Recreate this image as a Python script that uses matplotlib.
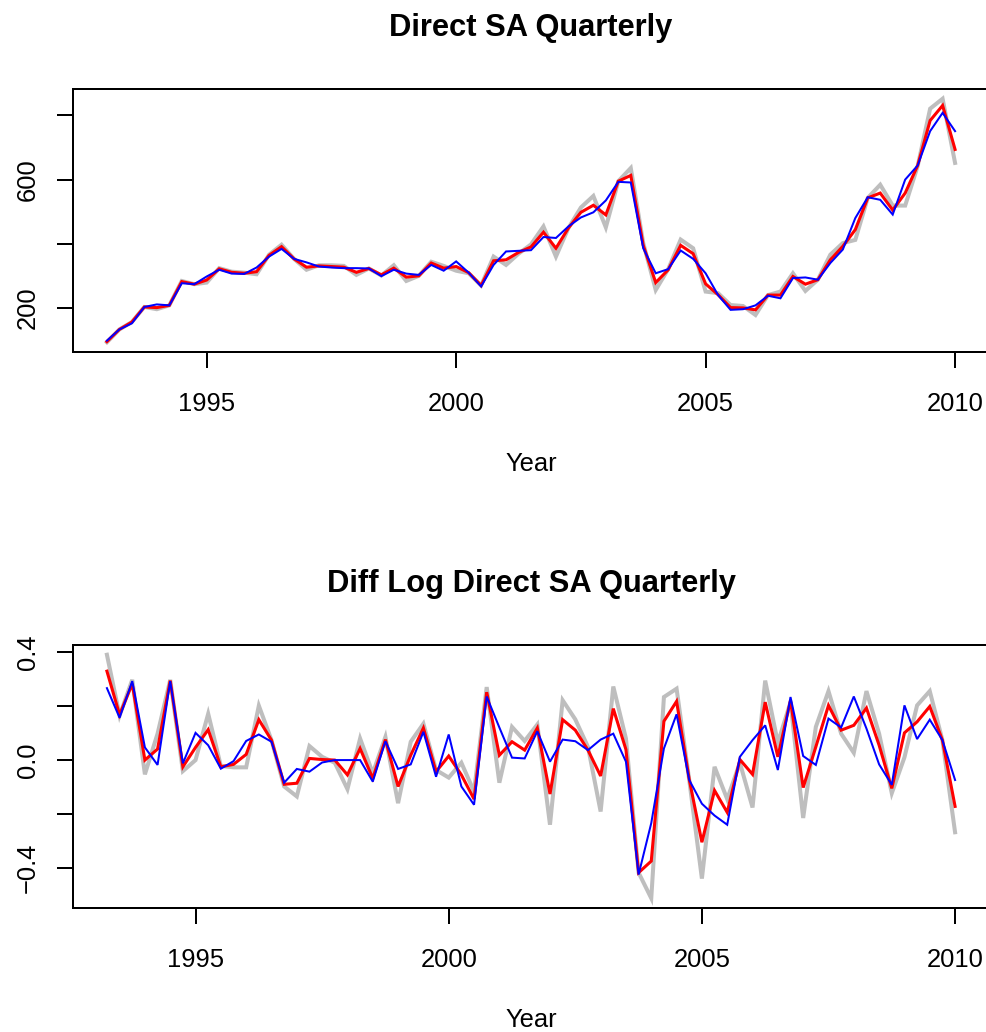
import numpy as np
import matplotlib
matplotlib.use("Agg")
import matplotlib.pyplot as plt

plt.rcParams["font.family"] = ["Liberation Sans", "DejaVu Sans"]

# quarterly level series, 1993Q1 .. 2010Q1
start_q = 1993.0
level_raw = [93, 133, 156, 203, 196, 208, 284, 274, 279, 324, 313, 310, 305, 366,
             397, 353, 319, 333, 333, 331, 303, 323, 301, 333, 284, 300, 344, 331,
             316, 308, 270, 360, 334, 369, 398, 454, 360, 449, 513, 549, 451, 595,
             636, 402, 256, 321, 413, 386, 251, 246, 209, 206, 178, 240, 251, 308,
             253, 288, 366, 402, 412, 543, 584, 519, 519, 642, 821, 852, 652]
level_sa = [95, 133, 156, 203, 201, 208, 282, 274, 287, 322, 311, 308, 313, 364,
            391, 353, 327, 331, 329, 327, 311, 323, 303, 324, 296, 300, 340, 324,
            329, 310, 270, 347, 350, 373, 390, 436, 386, 449, 498, 520, 490, 595,
            613, 395, 279, 319, 395, 369, 275, 241, 201, 200, 194, 240, 240, 298,
            274, 288, 350, 392, 444, 543, 558, 505, 558, 644, 784, 831, 694]
level_direct = [98, 133, 152, 203, 211, 208, 277, 274, 298, 319, 307, 306, 326, 360,
                384, 353, 342, 329, 326, 324, 324, 323, 299, 319, 307, 303, 334, 316,
                345, 310, 267, 334, 376, 378, 380, 421, 418, 454, 482, 498, 535, 593,
                591, 386, 308, 321, 379, 353, 308, 240, 194, 196, 208, 238, 230, 293,
                295, 288, 340, 382, 480, 545, 537, 491, 600, 644, 751, 808, 751]

# quarterly log differences, 1993Q2 .. 2010Q1
diff_start_q = 1993.25
dlog_raw = [0.391, 0.165, 0.298, -0.053, 0.098, 0.298, -0.041, 0.000, 0.172, -0.022,
            -0.027, -0.027, 0.202, 0.074, -0.098, -0.135, 0.052, 0.012, -0.010, -0.108,
            0.080, -0.049, 0.086, -0.160, 0.068, 0.135, -0.037, -0.065, -0.010, -0.117,
            0.271, -0.084, 0.123, 0.071, 0.132, -0.240, 0.222, 0.151, 0.049, -0.191,
            0.273, 0.080, -0.418, -0.513, 0.234, 0.265, -0.074, -0.440, -0.025, -0.145,
            -0.010, -0.176, 0.295, 0.064, 0.215, -0.215, 0.123, 0.256, 0.098, 0.027,
            0.256, 0.098, -0.123, 0.010, 0.203, 0.256, 0.074, -0.268]
dlog_sa = [0.330, 0.168, 0.283, 0.000, 0.041, 0.295, -0.025, 0.047, 0.113, -0.025,
           -0.016, 0.021, 0.150, 0.074, -0.090, -0.086, 0.006, 0.002, 0.000, -0.055,
           0.043, -0.068, 0.076, -0.098, 0.018, 0.119, -0.043, 0.015, -0.055, -0.145,
           0.252, 0.018, 0.068, 0.037, 0.119, -0.126, 0.150, 0.111, 0.037, -0.059,
           0.191, 0.039, -0.418, -0.375, 0.144, 0.218, -0.072, -0.305, -0.113, -0.194,
           0.002, -0.053, 0.215, 0.012, 0.222, -0.102, 0.049, 0.203, 0.111, 0.129,
           0.193, 0.055, -0.105, 0.101, 0.142, 0.199, 0.074, -0.172]
dlog_direct = [0.267, 0.157, 0.293, 0.047, -0.018, 0.293, -0.012, 0.101, 0.055, -0.032,
               -0.004, 0.071, 0.095, 0.068, -0.084, -0.033, -0.043, -0.009, 0.000, 0.000,
               0.000, -0.080, 0.070, -0.033, -0.016, 0.105, -0.062, 0.095, -0.098, -0.166,
               0.236, 0.121, 0.009, 0.006, 0.107, -0.006, 0.076, 0.070, 0.037, 0.076,
               0.098, -0.006, -0.425, -0.234, 0.043, 0.170, -0.074, -0.162, -0.206, -0.240,
               0.012, 0.074, 0.129, -0.037, 0.234, 0.015, -0.018, 0.154, 0.121, 0.236,
               0.117, -0.016, -0.092, 0.203, 0.078, 0.150, 0.074, -0.074]

year_ticks = [1995, 2000, 2005, 2010]
top_yticks = [200, 400, 600, 800]
top_ylabels = ["200", "", "600", ""]
bot_yticks = [-0.4, -0.2, 0.0, 0.2, 0.4]
bot_ylabels = ["\u22120.4", "", "0.0", "", "0.4"]

W, H, DPI = 987, 1032, 100
fig = plt.figure(figsize=(W / DPI, H / DPI), dpi=DPI)

px_l, px_r = 73, 989
ax1 = fig.add_axes([px_l / W, 1 - 352 / H, (px_r - px_l) / W, 263 / H])
ax2 = fig.add_axes([px_l / W, 1 - 908 / H, (px_r - px_l) / W, 263 / H])


def rpad(lo, hi, f=0.04):
    d = (hi - lo) * f
    return lo - d, hi + d


def draw(ax, t0, series, title, yticks, ylabels):
    n = len(series[0])
    t = t0 + np.arange(n) / 4.0
    for vals, col, lw in zip(series, ["#BEBEBE", "#FF0000", "#0000FF"], [2.9, 2.2, 1.45]):
        ax.plot(t, vals, color=col, lw=lw, solid_joinstyle="miter")
    ax.set_xlim(*rpad(t[0], t[-1]))
    allv = np.concatenate([np.asarray(s, float) for s in series])
    ax.set_ylim(*rpad(allv.min(), allv.max()))
    ax.set_xticks(year_ticks)
    ax.set_xticklabels([str(y) for y in year_ticks])
    ax.set_yticks(yticks)
    ax.set_yticklabels(ylabels, rotation=90, va="center")
    ax.tick_params(length=11.5, width=1.44, labelsize=18.4, direction="out")
    ax.tick_params(axis="x", pad=17.5)
    ax.tick_params(axis="y", pad=12.5)
    for s in ax.spines.values():
        s.set_linewidth(1.44)
    ax.set_title(title, fontsize=22.2, fontweight="bold", pad=38)
    ax.set_xlabel("Year", fontsize=18.4, labelpad=26)


draw(ax1, start_q, [level_raw, level_sa, level_direct], "Direct SA Quarterly",
     top_yticks, top_ylabels)
draw(ax2, diff_start_q, [dlog_raw, dlog_sa, dlog_direct], "Diff Log Direct SA Quarterly",
     bot_yticks, bot_ylabels)

fig.savefig("out.png", dpi=DPI)
